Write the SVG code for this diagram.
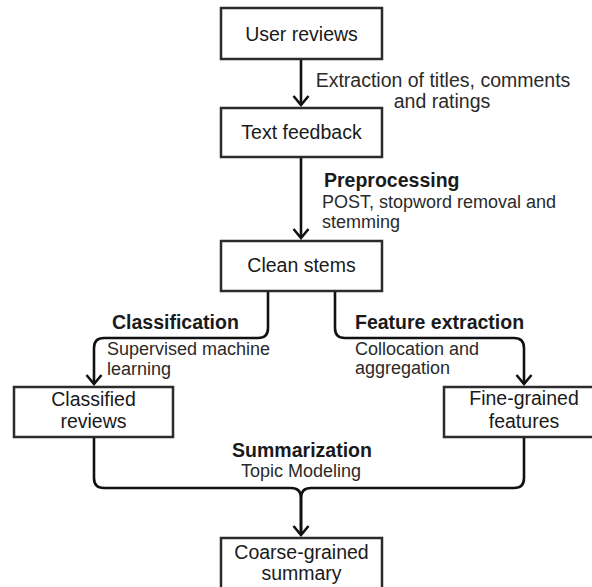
<svg xmlns="http://www.w3.org/2000/svg" width="592" height="587" viewBox="0 0 592 587">
<defs>
<style>
.box{fill:#fff;stroke:#2b2b2b;stroke-width:2.5}
.nt{font-family:"Liberation Sans",Arial,sans-serif;font-size:19.5px;fill:#1a1a1a;text-anchor:middle}
.lb{font-family:"Liberation Sans",Arial,sans-serif;font-size:19.5px;font-weight:bold;fill:#1a1a1a}
.sl{font-family:"Liberation Sans",Arial,sans-serif;font-size:18px;fill:#2a2a2a}
.el{font-family:"Liberation Sans",Arial,sans-serif;font-size:19.5px;fill:#2a2a2a;text-anchor:middle}
.cn{fill:none;stroke:#111;stroke-width:2.6}
</style>
<marker id="arr" markerUnits="userSpaceOnUse" viewBox="0 0 20 20" markerWidth="20" markerHeight="20" refX="17" refY="10" orient="auto">
<path d="M8,2.5 L17,10 L8,17.5" fill="none" stroke="#111" stroke-width="2.6" stroke-linejoin="miter"/>
</marker>
</defs>
<rect width="592" height="587" fill="#fff"/>
<g id="connectors">
<path class="cn" d="M301,59 V105" marker-end="url(#arr)"/>
<path class="cn" d="M301,157 V238" marker-end="url(#arr)"/>
<path class="cn" d="M268,291 V328 Q268,338 258,338 H104 Q94,338 94,348 V384" marker-end="url(#arr)"/>
<path class="cn" d="M335,291 V328 Q335,338 345,338 H514 Q524,338 524,348 V384" marker-end="url(#arr)"/>
<path class="cn" d="M94,437 V478 Q94,488 104,488 H291 Q301,488 301,498 V535" marker-end="url(#arr)"/>
<path class="cn" d="M524,437 V478 Q524,488 514,488 H311 Q301,488 301,498 V535"/>
</g>
<g id="labels">
<text class="el" x="443" y="87">Extraction of titles, comments</text>
<text class="el" x="442" y="108">and ratings</text>
<text class="lb" x="324" y="187">Preprocessing</text>
<text class="sl" x="322" y="208">POST, stopword removal and</text>
<text class="sl" x="322" y="228">stemming</text>
<text class="lb" x="112" y="329">Classification</text>
<text class="sl" x="107" y="355">Supervised machine</text>
<text class="sl" x="107" y="375">learning</text>
<text class="lb" x="355" y="329">Feature extraction</text>
<text class="sl" x="355" y="355">Collocation and</text>
<text class="sl" x="355" y="374">aggregation</text>
<text class="lb" x="302" y="457" text-anchor="middle">Summarization</text>
<text class="sl" x="301" y="477" text-anchor="middle">Topic Modeling</text>
</g>
<g id="user-reviews">
<rect class="box" x="221" y="8" width="161" height="51"/>
<text class="nt" x="301.5" y="41">User reviews</text>
</g>
<g id="text-feedback">
<rect class="box" x="221" y="108" width="161" height="49"/>
<text class="nt" x="301.5" y="139">Text feedback</text>
</g>
<g id="clean-stems">
<rect class="box" x="221" y="241" width="161" height="50"/>
<text class="nt" x="301.5" y="272">Clean stems</text>
</g>
<g id="classified-reviews">
<rect class="box" x="14" y="387" width="159" height="50"/>
<text class="nt" x="93.5" y="406">Classified</text>
<text class="nt" x="93.5" y="428">reviews</text>
</g>
<g id="fine-grained-features">
<rect class="box" x="444" y="387" width="160" height="50"/>
<text class="nt" x="524" y="405">Fine-grained</text>
<text class="nt" x="524" y="428">features</text>
</g>
<g id="coarse-grained-summary">
<rect class="box" x="221" y="538" width="161" height="52"/>
<text class="nt" x="301.5" y="559">Coarse-grained</text>
<text class="nt" x="301.5" y="580">summary</text>
</g>
</svg>
